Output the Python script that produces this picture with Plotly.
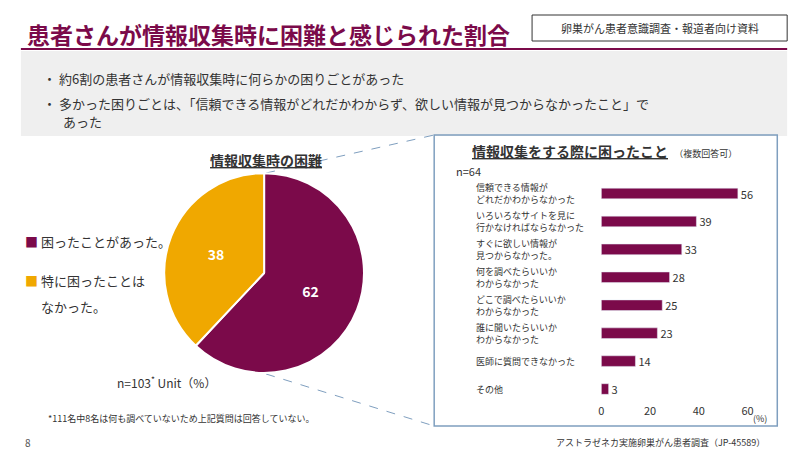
# difficulty_chart.py
import plotly.graph_objects as go

W, H = 800, 451
MAROON = "#7b0a4a"
GOLD = "#f0a800"
FONT = "Noto Sans CJK JP"

def px(x):
    return x / W

def py(y):
    return 1 - y / H

labels = ["信頼できる情報が<br>どれだかわからなかった",
          "いろいろなサイトを見に<br>行かなければならなかった",
          "すぐに欲しい情報が<br>見つからなかった。",
          "何を調べたらいいか<br>わからなかった",
          "どこで調べたらいいか<br>わからなかった",
          "誰に聞いたらいいか<br>わからなかった",
          "医師に質問できなかった",
          "その他"]
values = [56, 39, 33, 28, 25, 23, 14, 3]

fig = go.Figure()
fig.add_trace(go.Pie(values=[62, 38],
                     labels=["困ったことがあった。", "特に困ったことはなかった。"],
                     sort=False, direction="clockwise", rotation=0,
                     marker=dict(colors=[MAROON, GOLD], line=dict(color="white", width=2)),
                     texttemplate="<b>%{value}</b>", textposition="inside",
                     textfont=dict(color="white", size=14, family=FONT),
                     domain=dict(x=[px(155), px(357)], y=[py(367), py(163)]),
                     showlegend=False, hoverinfo="skip"))
fig.add_trace(go.Bar(x=values, y=labels, orientation="h",
                     marker=dict(color=MAROON), width=0.38,
                     text=values, textposition="outside", constraintext="none",
                     textfont=dict(size=11, color="#333333", family=FONT),
                     cliponaxis=False, showlegend=False))

fig.update_layout(width=W, height=H, margin=dict(l=0, r=0, t=0, b=0),
                  paper_bgcolor="white", plot_bgcolor="white",
                  font=dict(family=FONT, color="#333333"),
                  xaxis=dict(domain=[px(597), px(745)], range=[0, 60],
                             tickvals=[0, 20, 40, 60], showgrid=False,
                             zeroline=False, showline=False,
                             tickfont=dict(size=11, color="#333333")),
                  yaxis=dict(domain=[py(395), py(171)], autorange="reversed",
                             showticklabels=False, showgrid=False, showline=False))

for lab in labels:  # category labels left aligned
    fig.add_annotation(x=px(468), y=lab, xref="paper", yref="y", text=lab,
                       showarrow=False, xanchor="left", align="left",
                       font=dict(size=9, color="#333333"))

shapes = [
    dict(type="line", x0=px(10), x1=px(785), y0=py(41), y1=py(41), line=dict(color=MAROON, width=2)),
    dict(type="rect", x0=px(10), x1=px(785), y0=py(128), y1=py(43), fillcolor="#efefef", line=dict(width=0)),
    dict(type="rect", x0=px(527), x1=px(785), y0=py(33), y1=py(7), line=dict(color="#333333", width=1)),
    dict(type="rect", x0=px(428), x1=px(775), y0=py(418), y1=py(127), line=dict(color="#7f9fbf", width=1.5)),
    dict(type="line", x0=px(258), x1=px(428), y0=py(165), y1=py(127), line=dict(color="#7f9fbf", width=1, dash="dash")),
    dict(type="line", x0=px(258), x1=px(428), y0=py(366), y1=py(418), line=dict(color="#7f9fbf", width=1, dash="dash")),
]
for s in shapes:
    fig.add_shape(xref="paper", yref="paper", layer="below", **s)

texts = [
    (14, 26, "<b>患者さんが情報収集時に困難と感じられた割合</b>", 23, MAROON, "left"),
    (656, 20, "卵巣がん患者意識調査・報道者向け資料", 11, "#333333", "center"),
    (30, 70, "・ 約6割の患者さんが情報収集時に何らかの困りごとがあった", 13, "#333333", "left"),
    (30, 95, "・ 多かった困りごとは、「信頼できる情報がどれだかわからず、欲しい情報が見つからなかったこと」で", 13, "#333333", "left"),
    (51, 114, "あった", 13, "#333333", "left"),
    (258, 152, "<b><u>情報収集時の困難</u></b>", 14, "#333333", "center"),
    (600, 143, "<b><u>情報収集をする際に困ったこと</u></b>  <span style='font-size:9px'>（複数回答可）</span>", 14, "#333333", "center"),
    (448, 163, "n=64", 11, "#333333", "left"),
    (748, 410, "(%)", 9, "#333333", "left"),
    (12, 233, "<span style='color:%s'>■</span> 困ったことがあった。" % MAROON, 13, "#333333", "left"),
    (12, 272, "<span style='color:%s'>■</span> 特に困ったことは" % GOLD, 13, "#333333", "left"),
    (28, 298, "なかった。", 13, "#333333", "left"),
    (105, 374, "n=103<sup>*</sup> Unit（%）", 12, "#333333", "left"),
    (35, 410, "*111名中8名は何も調べていないため上記質問は回答していない。", 9, "#333333", "left"),
    (12, 434, "8", 10, "#555555", "left"),
    (765, 434, "アストラゼネカ実施卵巣がん患者調査（JP-45589）", 9, "#333333", "right"),
]
for x, y, t, size, color, anchor in texts:
    fig.add_annotation(x=px(x), y=py(y), xref="paper", yref="paper", text=t,
                       showarrow=False, xanchor=anchor, yanchor="middle",
                       font=dict(size=size, color=color))

fig.write_html("out.html")
print("chart written")
